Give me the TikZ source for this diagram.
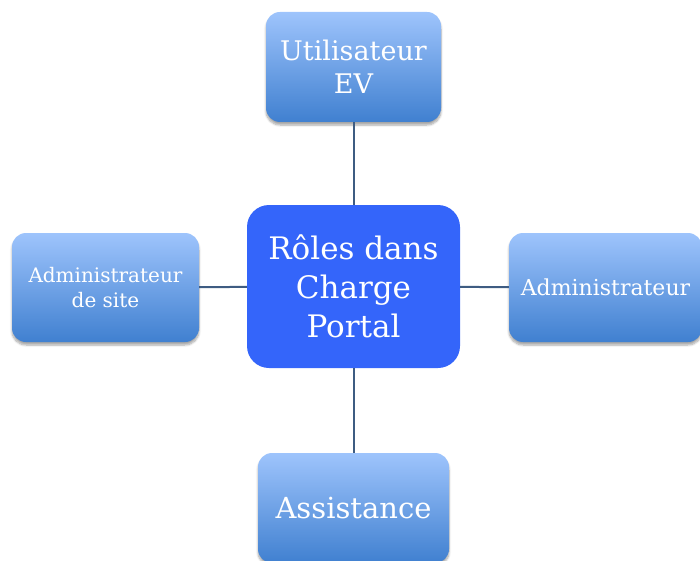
\documentclass[tikz,border=0pt]{standalone}
\usepackage{fontspec}
\setmainfont{DejaVu Serif}
\usetikzlibrary{shadows.blur}

\definecolor{roletop}{RGB}{158,196,252}
\definecolor{rolebottom}{RGB}{64,128,208}
\definecolor{hubblue}{RGB}{52,101,250}
\definecolor{linkblue}{RGB}{62,92,130}

\begin{document}
\begin{tikzpicture}[x=1pt,y=-1pt]
    % styles
    \tikzset{
      rolebox/.style = {rounded corners=14pt, top color=roletop, bottom color=rolebottom,
                        draw=none, text=white, align=center, inner sep=0pt,
                        blur shadow={shadow xshift=0pt, shadow yshift=-3pt,
                                     shadow blur steps=6, shadow opacity=35}},
      hubbox/.style  = {rounded corners=22pt, fill=hubblue, draw=none, text=white,
                        align=center, inner sep=0pt,
                        minimum width=213pt, minimum height=163pt},
      link/.style    = {line width=2pt, draw=linkblue}
    }
    \useasboundingbox (0,0) rectangle (700,561);

    % centre:
    \node[hubbox, font=\fontsize{31}{39}\selectfont] (hub) at (353.5,286.5)
      {R\^oles dans\\Charge\\Portal};

    % roles round it:
    \node[rolebox, minimum width=175pt, minimum height=110pt,
          font=\fontsize{27}{33}\selectfont] (user) at (353.5,67)
      {Utilisateur\\EV};
    \node[rolebox, minimum width=187pt, minimum height=109pt,
          font=\fontsize{20}{25}\selectfont] (siteadmin) at (105.5,287.5)
      {Administrateur\\de site};
    \node[rolebox, minimum width=193pt, minimum height=109pt,
          font=\fontsize{22}{27}\selectfont] (admin) at (605.5,287.5)
      {Administrateur};
    \node[rolebox, minimum width=191pt, minimum height=110pt,
          font=\fontsize{29}{35}\selectfont] (support) at (353.5,508)
      {Assistance};

    % links:
    \draw[link] (hub) -- (user);
    \draw[link] (hub) -- (siteadmin);
    \draw[link] (hub) -- (admin);
    \draw[link] (hub) -- (support);
\end{tikzpicture}
\end{document}
